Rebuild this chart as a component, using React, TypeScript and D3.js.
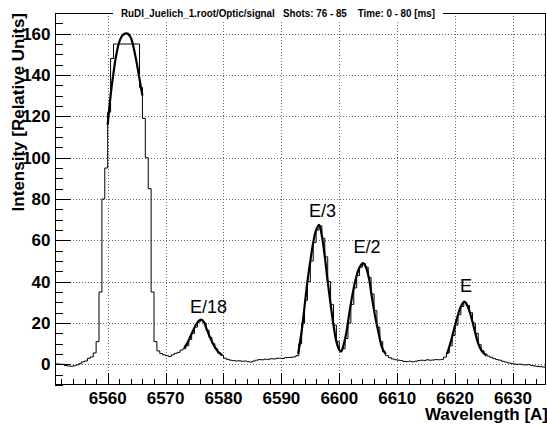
import React, { useRef, useEffect } from 'react';
import * as d3 from 'd3';

// histogram: 0.5 A bins starting at 6551.0
const binStart = 6551.0;
const binWidth = 0.5;
const counts = [
  0.2, 0.1, 0, -0.6, -0.8, -0.9, -0.7, -0.3, 0.3, 1.2,
  1.6, 2.9, 3.6, 5.5, 11, 35, 80, 95, 122, 148,
  155, 155, 155, 155, 155, 155, 155, 155, 155, 134,
  119, 100, 85, 35, 11, 6.5, 5.2, 4.6, 4.2, 3.8,
  4.6, 5.3, 5.8, 6.9, 7.6, 9.0, 12.0, 15.0, 18.0, 20.5,
  21.5, 20.0, 16.5, 13.0, 10.0, 7.5, 5.5, 4.4, 3.0, 2.4,
  2.0, 1.8, 1.6, 1.7, 1.5, 1.6, 1.3, 1.1, 1.6, 2.0,
  2.3, 2.2, 2.5, 2.4, 2.7, 2.6, 2.9, 3.0, 2.8, 3.2,
  3.3, 3.4, 3.6, 4.2, 10, 20, 31, 40, 50, 59,
  65, 67, 61, 52, 40, 29, 19, 11, 6.5, 7.5,
  12.5, 20, 29, 37, 43, 47, 48.8, 47, 42, 34,
  26, 18, 11, 6, 4.2, 3.2, 2.6, 2.2, 2.0, 1.8,
  1.4, 1.3, 1.5, 1.2, 1.5, 1.8, 2.0, 1.9, 2.2, 2.0,
  2.1, 2.3, 2.2, 2.4, 3.5, 5.5, 9, 14, 19, 24,
  28, 30, 28.5, 25, 20, 15, 9.5, 6.5, 5.0, 4.0,
  3.4, 2.8, 2.3, 2.0, 1.5, 1.1, 0.7, 0.5, 0.2, 0.0,
  0.1, -0.2, -0.3, -0.1, -0.6, -0.8, -1.0, -1.1, -1.3, -1.5,
];

// fitted curves as [wavelength, intensity]
const mainFit: [number, number][] = [
  [6560.0, 116], [6560.5, 130], [6561, 141], [6561.5, 150], [6562, 156], [6562.5, 159],
  [6563, 160], [6563.5, 160], [6564, 158], [6564.5, 153], [6565, 146], [6565.5, 138], [6566, 130],
];
const e18Fit: [number, number][] = [
  [6573.2, 8], [6573.7, 10], [6574.2, 13], [6574.7, 16], [6575.2, 19], [6575.7, 21], [6576.1, 21.7],
  [6576.6, 20.5], [6577.1, 17], [6577.6, 13.5], [6578.1, 10.5], [6578.6, 8], [6579.1, 6], [6579.8, 4.5],
];
const e3e2Fit: [number, number][] = [
  [6592.9, 5], [6593.5, 16], [6594, 28], [6594.5, 40], [6595, 50], [6595.5, 59], [6596, 65],
  [6596.5, 67.5], [6597, 62], [6597.5, 52], [6598, 40], [6598.5, 29], [6599, 19], [6599.5, 11],
  [6600, 7], [6600.3, 6.2], [6600.7, 9], [6601.2, 15], [6601.9, 27.8], [6602.5, 37], [6603, 43],
  [6603.5, 47], [6604.1, 49], [6604.6, 47], [6605.1, 42], [6605.6, 33], [6606.2, 23], [6606.8, 15],
  [6607.4, 8], [6608, 5],
];
const eFit: [number, number][] = [
  [6618.6, 5], [6619, 8.5], [6619.5, 13.5], [6620, 19], [6620.5, 24], [6621, 28], [6621.6, 30.3],
  [6622.1, 28.5], [6622.6, 24.6], [6623.1, 19.5], [6623.5, 15], [6624, 10], [6624.5, 7],
  [6625, 5.2], [6625.4, 4.2],
];

const peakLabels = ['E/18', 'E/3', 'E/2', 'E'];
const peakLabelX = [6577.4, 6597.1, 6604.8, 6621.9];
const peakLabelY = [25, 71.4, 53.7, 35.1];

const xTicks = [6560, 6570, 6580, 6590, 6600, 6610, 6620, 6630];
const yTicks = [0, 20, 40, 60, 80, 100, 120, 140, 160];

const title = 'RuDI_Juelich_1.root/Optic/signal   Shots: 76 - 85    Time: 0 - 80 [ms]';

const W = 547;
const H = 426;

function SpectrumChart(): React.ReactElement {
  const svgRef = useRef<SVGSVGElement | null>(null);

  useEffect(() => {
    const svg = d3.select(svgRef.current);
    svg.selectAll('*').remove();

    const left = 55;
    const right = 546;
    const top = 13;
    const bottom = 385;
    const font = '"Liberation Sans", Arial, Helvetica, sans-serif';

    const x = d3.scaleLinear().domain([6550.9, 6635.7]).range([left, right]);
    const y = d3.scaleLinear().domain([-10, 170]).range([bottom, top]);
    const px = (v: number) => Math.round(v) + 0.5;

    svg.append('rect').attr('width', W).attr('height', H).attr('fill', 'white');

    svg.append('defs').append('clipPath').attr('id', 'plot-clip')
      .append('rect')
      .attr('x', left)
      .attr('y', top)
      .attr('width', right - left)
      .attr('height', bottom - top);

    // dotted grid
    const grid = svg.append('g')
      .attr('stroke', '#666')
      .attr('stroke-width', 1)
      .attr('stroke-dasharray', '1,2')
      .attr('shape-rendering', 'crispEdges');
    xTicks.forEach((t) => {
      grid.append('line')
        .attr('x1', px(x(t))).attr('x2', px(x(t)))
        .attr('y1', top).attr('y2', bottom);
    });
    yTicks.forEach((t) => {
      grid.append('line')
        .attr('x1', left).attr('x2', right)
        .attr('y1', px(y(t))).attr('y2', px(y(t)));
    });

    // histogram
    const histPts: [number, number][] = counts.map((c, i) => [binStart + i * binWidth, c]);
    histPts.push([binStart + counts.length * binWidth, counts[counts.length - 1]]);
    const step = d3.line<[number, number]>()
      .x((d) => x(d[0]))
      .y((d) => y(d[1]))
      .curve(d3.curveStepAfter);
    svg.append('path')
      .attr('clip-path', 'url(#plot-clip)')
      .attr('d', step(histPts))
      .attr('fill', 'none')
      .attr('stroke', '#000')
      .attr('stroke-width', 1);

    // fits
    const smooth = d3.line<[number, number]>()
      .x((d) => x(d[0]))
      .y((d) => y(d[1]))
      .curve(d3.curveCatmullRom);
    [mainFit, e18Fit, e3e2Fit, eFit].forEach((f) => {
      svg.append('path')
        .attr('clip-path', 'url(#plot-clip)')
        .attr('d', smooth(f))
        .attr('fill', 'none')
        .attr('stroke', '#000')
        .attr('stroke-width', 2.2)
        .attr('stroke-linejoin', 'round');
    });

    // frame
    svg.append('rect')
      .attr('x', left + 0.5)
      .attr('y', top + 0.5)
      .attr('width', right - left - 1)
      .attr('height', bottom - top - 1)
      .attr('fill', 'none')
      .attr('stroke', '#000')
      .attr('shape-rendering', 'crispEdges');

    // ticks
    const ticks = svg.append('g').attr('stroke', '#000').attr('shape-rendering', 'crispEdges');
    d3.range(-10, 171, 5).forEach((t) => {
      const major = t % 20 === 0;
      ticks.append('line')
        .attr('x1', left).attr('x2', left + (major ? 16 : 8))
        .attr('y1', px(y(t))).attr('y2', px(y(t)));
    });
    d3.range(6552, 6636, 2).forEach((t) => {
      const major = t % 10 === 0;
      ticks.append('line')
        .attr('x1', px(x(t))).attr('x2', px(x(t)))
        .attr('y1', bottom).attr('y2', bottom - (major ? 12 : 6));
    });

    // tick labels
    svg.append('g')
      .selectAll('text')
      .data(yTicks)
      .enter()
      .append('text')
      .attr('x', 50.5)
      .attr('y', (d) => y(d) + 6)
      .attr('text-anchor', 'end')
      .style('font-family', font)
      .style('font-weight', 'bold')
      .style('font-size', '17px')
      .text((d) => d);

    svg.append('g')
      .selectAll('text')
      .data(xTicks)
      .enter()
      .append('text')
      .attr('x', (d) => x(d))
      .attr('y', 404)
      .attr('text-anchor', 'middle')
      .style('font-family', font)
      .style('font-weight', 'bold')
      .style('font-size', '17px')
      .text((d) => d);

    // axis titles
    svg.append('text')
      .attr('x', 548)
      .attr('y', 420)
      .attr('text-anchor', 'end')
      .style('font-family', font)
      .style('font-weight', 'bold')
      .style('font-size', '17px')
      .text('Wavelength [A]');

    svg.append('text')
      .attr('transform', 'translate(24, 13) rotate(-90)')
      .attr('text-anchor', 'end')
      .style('font-family', font)
      .style('font-weight', 'bold')
      .style('font-size', '17px')
      .text('Intensity [Relative Units]');

    // peak labels
    svg.append('g')
      .selectAll('text')
      .data(peakLabels)
      .enter()
      .append('text')
      .attr('x', (d, i) => x(peakLabelX[i]))
      .attr('y', (d, i) => y(peakLabelY[i]))
      .attr('text-anchor', 'middle')
      .style('font-family', font)
      .style('font-size', '18px')
      .text((d) => d);

    // title box on the frame
    svg.append('rect')
      .attr('x', 113)
      .attr('y', 6)
      .attr('width', 330)
      .attr('height', 14)
      .attr('fill', 'white');
    svg.append('text')
      .attr('x', 121)
      .attr('y', 17)
      .attr('textLength', 314)
      .attr('lengthAdjust', 'spacingAndGlyphs')
      .style('font-family', font)
      .style('font-weight', 'bold')
      .style('font-size', '10px')
      .style('white-space', 'pre')
      .text(title);
  }, []);

  return (
    <svg
      ref={svgRef}
      width={W}
      height={H}
      style={{ position: 'absolute', left: 0, top: 0, display: 'block' }}
    />
  );
}

export default function App(): React.ReactElement {
  return <SpectrumChart />;
}
